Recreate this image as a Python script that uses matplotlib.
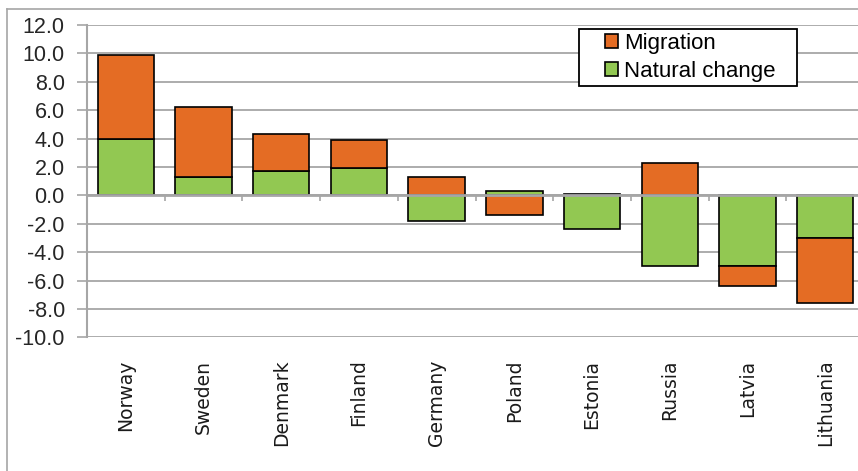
import numpy as np
import matplotlib
matplotlib.use("Agg")
import matplotlib.pyplot as plt
from matplotlib.patches import Rectangle, Patch
from matplotlib.lines import Line2D

# Bevölkerungsentwicklung je Land, pro 1000 Einwohner
countries = ["Norway", "Sweden", "Denmark", "Finland", "Germany",
             "Poland", "Estonia", "Russia", "Latvia", "Lithuania"]
natural_change = [4.0, 1.3, 1.7, 1.9, -1.8, 0.3, -2.4, -5.0, -5.0, -3.0]
migration = [5.9, 4.9, 2.6, 2.0, 1.3, -1.4, 0.1, 2.3, -1.4, -4.6]
y_ticks = [-10.0, -8.0, -6.0, -4.0, -2.0, 0.0, 2.0, 4.0, 6.0, 8.0, 10.0, 12.0]

col_orange = "#E46C24"
col_green = "#92C852"
col_grid = "#A6A6A6"

W, H = 858, 471
fig = plt.figure(figsize=(W / 100, H / 100), dpi=100)
ax = fig.add_axes([87 / W, 1 - 337.3 / H, 777 / W, 312.3 / H])

x = np.arange(len(countries))
nat = np.array(natural_change)
mig = np.array(migration)
# Migration wird auf die natürliche Veränderung gestapelt, wenn beide das gleiche Vorzeichen haben
mig_bottom = np.where(np.sign(nat) == np.sign(mig), nat, 0.0)

bar_w = 0.725
ax.bar(x, nat, width=bar_w, color=col_green, edgecolor="black", linewidth=1.2, zorder=2)
ax.bar(x, mig, width=bar_w, bottom=mig_bottom, color=col_orange, edgecolor="black",
       linewidth=1.2, zorder=2)

# Achsen und Gitter
ax.set_xlim(-0.5, len(countries) - 0.5)
ax.set_ylim(-10, 12)
ax.set_yticks(y_ticks)
ax.set_yticklabels([f"{v:.1f}" for v in y_ticks], fontsize=15.5, family="Liberation Sans",
                   color="#262626")
ax.yaxis.grid(True, color=col_grid, linewidth=1.3, zorder=0)
ax.set_axisbelow(True)
ax.tick_params(axis="y", length=7, width=1.2, color=col_grid, pad=9)

ax.set_xticks(x)
ax.set_xticklabels(countries, rotation=90, fontsize=13.5, family="DejaVu Sans",
                   va="top", color="#1a1a1a")
ax.tick_params(axis="x", length=0, pad=16)

for side in ["top", "right", "bottom"]:
    ax.spines[side].set_visible(False)
ax.spines["left"].set_color(col_grid)
ax.spines["left"].set_linewidth(1.5)

# Nulllinie und Kategorie-Markierungen
ax.axhline(0, color=col_grid, linewidth=2.0, zorder=3)
bounds = np.arange(len(countries) - 1) + 0.5
ax.vlines(bounds, -0.38, 0, color=col_grid, linewidth=1.2, zorder=3)

# Legende mit eigenem Rahmen
ax.add_patch(Rectangle((0.633, 0.805), 0.281, 0.182, transform=ax.transAxes,
                       facecolor="white", edgecolor="black", linewidth=1.3, zorder=5))
handles = [Patch(facecolor=col_orange, edgecolor="black", linewidth=1.2, label="Migration"),
           Patch(facecolor=col_green, edgecolor="black", linewidth=1.2, label="Natural change")]
leg = ax.legend(handles=handles, loc="upper left", bbox_to_anchor=(0.664, 0.982),
                frameon=False, prop={"family": "Liberation Sans", "size": 16},
                handlelength=0.6, handleheight=0.6, handletextpad=0.25,
                labelspacing=0.3, borderpad=0.1, borderaxespad=0)
leg.set_zorder(6)

# Äußerer Rahmen
fig.add_artist(Line2D([7 / W, 7 / W], [0, 1 - 9 / H], color=col_grid, linewidth=1.2))
fig.add_artist(Line2D([7 / W, 1], [1 - 9 / H, 1 - 9 / H], color=col_grid, linewidth=1.2))

fig.savefig("out.png", dpi=100)
